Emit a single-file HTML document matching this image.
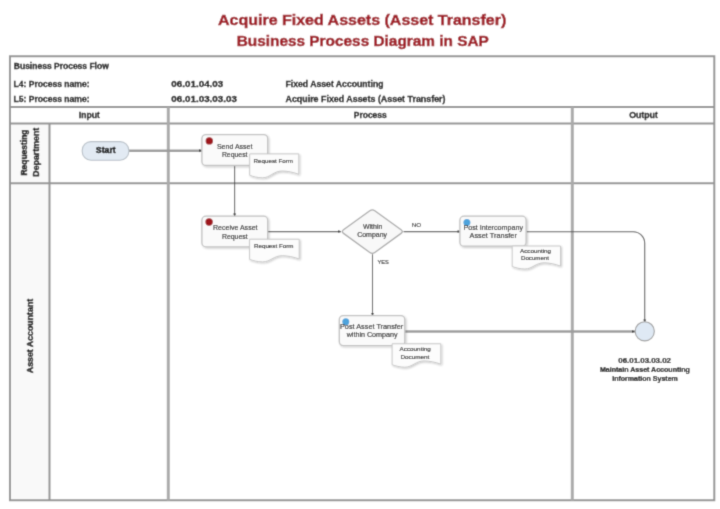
<!DOCTYPE html>
<html><head><meta charset="utf-8">
<style>
html,body{margin:0;padding:0;background:#fff;width:720px;height:509px;overflow:hidden}
svg{display:block;font-family:"Liberation Sans",sans-serif}
</style></head><body>
<svg width="720" height="509" viewBox="0 0 720 509">
<defs>
<filter id="sh" x="-20%" y="-20%" width="140%" height="150%">
<feGaussianBlur in="SourceAlpha" stdDeviation="1"/>
<feOffset dx="0.6" dy="1" result="b"/>
<feComponentTransfer><feFuncA type="linear" slope="0.22"/></feComponentTransfer>
<feMerge><feMergeNode/><feMergeNode in="SourceGraphic"/></feMerge>
</filter>
<filter id="bl" x="0" y="0" width="720" height="509" filterUnits="userSpaceOnUse"><feConvolveMatrix order="3" kernelMatrix="0.0225 0.105 0.0225 0.105 0.49 0.105 0.0225 0.105 0.0225" edgeMode="duplicate"/></filter>
</defs>
<g filter="url(#bl)">
<rect x="0" y="0" width="720" height="509" fill="#fff"/>
<!-- title -->
<g fill="#a01e26" stroke="#a01e26" stroke-width="0.5" font-weight="bold" font-size="15.3">
<text x="218" y="24.7" textLength="288.3" lengthAdjust="spacingAndGlyphs">Acquire Fixed Assets (Asset Transfer)</text>
<text x="236.7" y="46" textLength="252.2" lengthAdjust="spacingAndGlyphs">Business Process Diagram in SAP</text>
</g>
<!-- lane header column tint -->
<rect x="10" y="123.5" width="39.5" height="377" fill="#f9f9f9"/>
<!-- table lines -->
<g stroke="#949494" stroke-width="2" fill="none">
<path d="M9.95 56.3 V500.2 H714.3 V56.3 Z"/>
<line x1="10" y1="107" x2="714.5" y2="107"/>
<line x1="10" y1="123.5" x2="714.5" y2="123.5"/>
<line x1="10" y1="183.3" x2="714.5" y2="183.3"/>
<line x1="49.5" y1="123.5" x2="49.5" y2="500.5"/>
<line x1="168.3" y1="107" x2="168.3" y2="500.5" stroke="#aaa" stroke-width="3"/>
<line x1="572.3" y1="107" x2="572.3" y2="500.5" stroke="#aaa" stroke-width="3"/>
</g>
<!-- header text -->
<g fill="#111" stroke="#111" stroke-width="0.3" font-weight="bold" font-size="8.5">
<text x="13.8" y="69.2" textLength="95" lengthAdjust="spacingAndGlyphs">Business Process Flow</text>
<text x="13.5" y="86.7" textLength="76" lengthAdjust="spacingAndGlyphs">L4: Process name:</text>
<text x="13.5" y="101.7" textLength="76" lengthAdjust="spacingAndGlyphs">L5: Process name:</text>
<text x="171.3" y="86.7" textLength="52" lengthAdjust="spacingAndGlyphs">06.01.04.03</text>
<text x="171.3" y="101.7" textLength="65.7" lengthAdjust="spacingAndGlyphs">06.01.03.03.03</text>
<text x="285.5" y="86.7" textLength="98" lengthAdjust="spacingAndGlyphs">Fixed Asset Accounting</text>
<text x="285.5" y="101.7" textLength="160" lengthAdjust="spacingAndGlyphs">Acquire Fixed Assets (Asset Transfer)</text>
<text x="78.75" y="117.5" textLength="21" lengthAdjust="spacingAndGlyphs">Input</text>
<text x="353.75" y="117.5" textLength="33" lengthAdjust="spacingAndGlyphs">Process</text>
<text x="629.2" y="117.5" textLength="28.7" lengthAdjust="spacingAndGlyphs">Output</text>
</g>
<!-- lane labels -->
<g fill="#111" stroke="#111" stroke-width="0.4" font-weight="bold" font-size="8.5">
<text transform="translate(26.5,175.5) rotate(-90)" textLength="46" lengthAdjust="spacingAndGlyphs">Requesting</text>
<text transform="translate(38.5,176.7) rotate(-90)" textLength="49" lengthAdjust="spacingAndGlyphs">Department</text>
<text transform="translate(33.2,373.2) rotate(-90)" textLength="74.4" lengthAdjust="spacingAndGlyphs">Asset Accountant</text>
</g>
<!-- connectors -->
<g stroke="#9c9c9c" stroke-width="2.6" fill="none">
<line x1="129" y1="150.7" x2="202.5" y2="150.7"/>
<line x1="405" y1="331.5" x2="635" y2="331.5"/>
</g>
<g stroke="#555" stroke-width="1.1" fill="none">
<line x1="234.6" y1="166" x2="234.6" y2="216.5"/>
<line x1="268" y1="231.6" x2="341" y2="231.6"/>
<line x1="403.6" y1="231.6" x2="460.5" y2="231.6"/>
<line x1="372.5" y1="254.3" x2="372.5" y2="316"/>
<path d="M526.5 231.7 H633.2 A11.5 11.5 0 0 1 644.7 243.2 V321.8"/>
</g>
<!-- arrow tips -->
<g fill="#3a3a3a">
<path d="M202.3 150.7 l-3.2 -1.6 v3.2 Z"/>
<path d="M234.6 216.6 l-1.5 -3 h3 Z"/>
<path d="M341.2 231.6 l-3 -1.5 v3 Z"/>
<path d="M460.6 231.6 l-3 -1.5 v3 Z"/>
<path d="M372.5 315.9 l-1.5 -3 h3 Z"/>
<path d="M644.7 322.4 l-1.5 -3 h3 Z"/>
<path d="M635 331.5 l-3 -1.5 v3 Z"/>
</g>
<!-- start -->
<rect x="82.2" y="141.6" width="46.6" height="18.6" rx="8.8" fill="#e2eaf3" stroke="#b8c0c8" stroke-width="1.1"/>
<text x="95.8" y="152.9" font-size="9" font-weight="bold" fill="#111" stroke="#111" stroke-width="0.45" textLength="20" lengthAdjust="spacingAndGlyphs">Start</text>
<!-- process boxes -->
<g fill="#fafafa" stroke="#c2c2c2" stroke-width="1.3" filter="url(#sh)">
<rect x="201.9" y="134.6" width="65.8" height="30.9" rx="4"/>
<rect x="201.9" y="216.2" width="65.8" height="30.6" rx="4"/>
<rect x="459.9" y="216.2" width="66.2" height="30" rx="4"/>
<rect x="339.3" y="315.6" width="65.5" height="30" rx="4"/>
</g>
<path d="M369.8 210.7 Q372.3 208.9 374.8 210.7 L401.1 229.8 Q403.6 231.6 401.1 233.4 L374.8 252.5 Q372.3 254.3 369.8 252.5 L343.5 233.4 Q341 231.6 343.5 229.8 Z" fill="#f8f8f8" stroke="#aaa" stroke-width="1.3"/>
<!-- documents -->
<g fill="#fcfcfc" stroke="#c8c8c8" stroke-width="1" filter="url(#sh)">
<path d="M249.70 153.90 H298.80 V174.30 C293.89 172.30 287.02 171.00 282.11 171.00 C273.27 171.00 270.32 177.80 262.47 177.80 C257.56 177.80 253.14 176.50 249.70 175.30 Z"/>
<path d="M249.60 239.20 H299.20 V259.00 C294.24 257.00 287.30 255.70 282.34 255.70 C273.41 255.70 270.43 261.90 262.50 261.90 C257.54 261.90 253.07 260.60 249.60 259.40 Z"/>
<path d="M512.20 246.00 H560.50 V266.10 C555.67 264.10 548.91 262.80 544.08 262.80 C535.38 262.80 532.49 269.00 524.76 269.00 C519.93 269.00 515.58 267.70 512.20 266.50 Z"/>
<path d="M392.10 343.80 H440.80 V364.20 C435.93 362.20 429.11 360.90 424.24 360.90 C415.48 360.90 412.55 367.20 404.76 367.20 C399.89 367.20 395.51 365.90 392.10 364.70 Z"/>
</g>
<!-- output circle -->
<circle cx="644.75" cy="331.3" r="9.6" fill="#dfe9f4" stroke="#a0a0a0" stroke-width="1.1"/>
<!-- dots -->
<circle cx="209.3" cy="140.9" r="3.7" fill="#9e141b"/>
<circle cx="209.1" cy="222" r="3.7" fill="#9e141b"/>
<circle cx="466.9" cy="222.5" r="3.5" fill="#4ea3dc"/>
<circle cx="345.8" cy="321.7" r="3.5" fill="#4ea3dc"/>
<!-- box text -->
<g fill="#222" stroke="#222" stroke-width="0.14" font-size="7.6">
<text x="216.9" y="149.1" textLength="35.6" lengthAdjust="spacingAndGlyphs">Send Asset</text>
<text x="221.9" y="157.25" textLength="25.6" lengthAdjust="spacingAndGlyphs">Request</text>
<text x="213" y="229.8" textLength="44.5" lengthAdjust="spacingAndGlyphs">Receive Asset</text>
<text x="221.9" y="238.5" textLength="25.8" lengthAdjust="spacingAndGlyphs">Request</text>
<text x="363" y="228.9" textLength="19.3" lengthAdjust="spacingAndGlyphs">Within</text>
<text x="357.2" y="237.1" textLength="29.8" lengthAdjust="spacingAndGlyphs">Company</text>
<text x="463.4" y="230.3" textLength="59.6" lengthAdjust="spacingAndGlyphs">Post Intercompany</text>
<text x="469.5" y="238.4" textLength="47.4" lengthAdjust="spacingAndGlyphs">Asset Transfer</text>
<text x="340" y="329" textLength="63.3" lengthAdjust="spacingAndGlyphs">Post Asset Transfer</text>
<text x="346.7" y="337.4" textLength="50.8" lengthAdjust="spacingAndGlyphs">within Company</text>
</g>
<g fill="#222" stroke="#222" stroke-width="0.12" font-size="6">
<text x="253.6" y="162.6" textLength="39.4" lengthAdjust="spacingAndGlyphs">Request Form</text>
<text x="254" y="247.8" textLength="39.4" lengthAdjust="spacingAndGlyphs">Request Form</text>
<text x="520" y="253" textLength="31" lengthAdjust="spacingAndGlyphs">Accounting</text>
<text x="521" y="260.3" textLength="28" lengthAdjust="spacingAndGlyphs">Document</text>
<text x="399.6" y="351.2" textLength="31.2" lengthAdjust="spacingAndGlyphs">Accounting</text>
<text x="400.4" y="358.6" textLength="28.9" lengthAdjust="spacingAndGlyphs">Document</text>
<text x="411.7" y="227.2" textLength="9.4" lengthAdjust="spacingAndGlyphs">NO</text>
<text x="377.5" y="263.5" textLength="11.4" lengthAdjust="spacingAndGlyphs">YES</text>
</g>
<!-- output label -->
<g fill="#111" stroke="#111" stroke-width="0.2" font-weight="bold" font-size="6.5">
<text x="618.3" y="362.5" textLength="52.7" lengthAdjust="spacingAndGlyphs">06.01.03.03.02</text>
<text x="599.9" y="372.2" textLength="90" lengthAdjust="spacingAndGlyphs">Maintain Asset Accounting</text>
<text x="612.2" y="380.6" textLength="65.7" lengthAdjust="spacingAndGlyphs">Information System</text>
</g>
</g>
</svg>
</body></html>
